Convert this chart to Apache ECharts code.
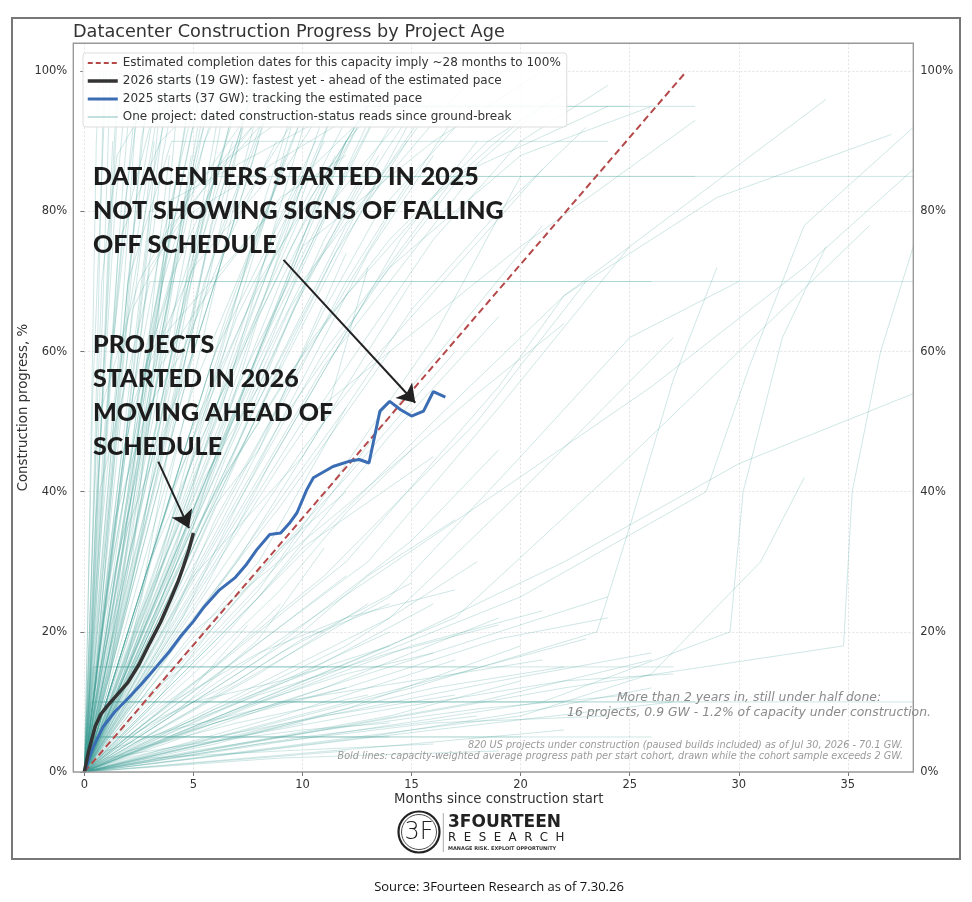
<!DOCTYPE html>
<html>
<head>
<meta charset="utf-8">
<script src="https://cdn.jsdelivr.net/npm/echarts@6.0.0/dist/echarts.min.js"></script>
<style>
html,body{margin:0;padding:0;background:#fff;}
#chart{width:972px;height:902px;}
</style>
</head>
<body>
<div id="chart"></div>
<script>
// ---------------- DATA ----------------
const xTickValues = [0, 5, 10, 15, 20, 25, 30, 35];
const yTickValues = [0, 20, 40, 60, 80, 100];

const paceName = 'Estimated completion dates for this capacity imply ~28 months to 100%';
const cohort2026Name = '2026 starts (19 GW): fastest yet - ahead of the estimated pace';
const cohort2025Name = '2025 starts (37 GW): tracking the estimated pace';
const projectName = 'One project: dated construction-status reads since ground-break';

// estimated pace (month, %)
const pacePath = [[0, 0], [27.6, 100]];

// 2026 starts cohort, capacity-weighted average (month, %)
const cohort2026 = [[0,0],[0.2,3],[0.5,6.5],[0.75,8.2],[1.05,9.4],[1.5,11],[2,12.8],[2.5,15.3],[3,18.4],[3.5,21.4],[3.95,24.6],[4.3,27.2],[4.55,29.4],[4.8,31.8],[5,34.1]];

// 2025 starts cohort, capacity-weighted average (month, %)
const cohort2025 = [[0,0],[0.4,3.5],[0.87,6.5],[1.4,8.6],[2,10.5],[2.6,12.5],[3.3,15],[3.9,17.2],[4.4,19.3],[5,21.5],[5.5,23.6],[6.2,26],[6.9,27.7],[7.4,29.5],[7.9,31.7],[8.5,33.9],[9,34.1],[9.4,35.5],[9.75,37],[10.2,40.3],[10.5,42],[11.4,43.6],[12.2,44.4],[12.6,44.6],[13.05,44.1],[13.55,51.5],[14,52.9],[14.5,51.7],[15,50.8],[15.55,51.5],[16,54.3],[16.55,53.5]];

// individual projects: fast starters
const fastPaths = [
  [[0,0],[0.3,25],[0.6,60],[0.9,100]],
  [[0,0],[0.4,55],[1,100]],
  [[0,0],[0.5,30],[1.1,72],[1.5,98]],
  [[0,0],[0.6,40],[1.2,75],[1.6,100]],
  [[0,0],[0.3,15],[1,50],[1.8,85],[2.2,100]],
  [[0,0],[0.8,35],[1.6,60],[2.4,95]],
  [[0,0],[1.2,40],[2,70],[3,100]],
  [[0,0],[0.5,20],[1.5,55],[2.8,80],[4,98]],
  [[0,0],[1.8,60],[2.6,90],[3.2,100]],
  [[0,0],[2,50],[3.5,75],[5,95]],
  [[0,0],[1,25],[3,60],[4.5,85],[5.5,100]],
  [[0,0],[2.2,30],[3.4,65],[4.4,100]],
  [[0,0],[0.4,10],[1.4,45],[3.2,90]],
  [[0,0],[1.3,20],[3,62],[4.8,95]],
  [[0,0],[0.9,22],[2.1,38],[3.9,88]],
  [[0,0],[2.5,45],[4,70],[6,100]],
  [[0,0],[2.8,60],[4.2,80],[5.5,100]],
  [[0,0],[3,55],[5.5,90],[7,100]],
  [[0,0],[1.5,30],[4,65],[7,95]],
  [[0,0],[3.6,70],[6,95]],
  [[0,0],[4.5,65],[6.5,100]],
  [[0,0],[2,35],[5,60],[8,90]],
  [[0,0],[1,15],[3.8,50],[6,80],[8,100]],
  [[0,0],[3,40],[6,75],[9,100]],
  [[0,0],[5.5,70],[8.5,95]],
  [[0,0],[4,50],[7,80],[10,95]],
  [[0,0],[2,40],[2.5,55],[5,72],[8.5,85]],
  [[0,0],[3.5,35],[7,65],[11,90]],
  [[0,0],[6.5,65],[9.5,90],[11,100]],
  [[0,0],[5,55],[9,85],[12,100]],
  [[0,0],[3,30],[6,52],[9.5,75],[12.5,92]],
  [[0,0],[4,40],[8,70],[13,95]],
  [[0,0],[6,60],[10,85],[14,97]],
  [[0,0],[5,45],[10,80],[14,100]],
  [[0,0],[8,60],[12,90],[15,100]],
  [[0,0],[7,55],[11,80],[15,95]],
  [[0,0],[9,70],[13,95]],
  [[0,0],[5,35],[8,65],[11.5,88]],
  [[0,0],[6,45],[10,70],[16,95]],
  [[0,0],[0.2,8],[0.7,45],[1.3,90]],
  [[0,0],[0.7,18],[1.9,48],[2.9,76],[3.6,100]],
  [[0,0],[1.1,12],[2.4,42],[3.3,58],[5.2,92]],
  [[0,0],[1.6,22],[3.1,47],[4.6,68],[6.8,90]],
  [[0,0],[2.6,25],[4.4,55],[5.8,78],[7.6,96]],
  [[0,0],[3.3,28],[5.2,50],[7.4,72],[9.8,92]],
  [[0,0],[0.5,12],[2.3,34],[4.1,58],[4.9,75],[6.3,88]],
  [[0,0],[4.2,32],[6.6,58],[8.8,78],[10.6,90]],
  [[0,0],[1.9,18],[4.8,48],[7.8,68],[10.2,82],[12.8,98]]
];

// individual projects: more fast starters
const fastPaths2 = [
  [[0,0],[0.5,35],[1.4,80],[2,100]],
  [[0,0],[0.9,48],[1.9,82],[2.7,100]],
  [[0,0],[1.4,52],[2.3,78],[3.5,100]],
  [[0,0],[1.7,42],[3.3,85],[3.9,100]],
  [[0,0],[2.4,58],[3.6,88],[4.3,100]],
  [[0,0],[1.2,28],[2.7,55],[4.6,92],[5,100]],
  [[0,0],[2.9,48],[4.9,85],[5.8,100]],
  [[0,0],[3.4,62],[5.1,88],[6.2,100]],
  [[0,0],[2.1,26],[4.3,60],[6.6,98]],
  [[0,0],[3.9,58],[5.9,82],[7.2,100]],
  [[0,0],[4.6,55],[6.4,80],[7.8,100]],
  [[0,0],[1.8,14],[4.7,52],[7.1,84],[8.4,100]],
  [[0,0],[5.2,62],[7.6,86],[8.9,100]],
  [[0,0],[3.6,30],[6.1,58],[8.3,82],[9.6,95]],
  [[0,0],[5.8,58],[8.4,80],[10.2,100]],
  [[0,0],[6.3,52],[9.1,82],[10.8,100]],
  [[0,0],[4.4,36],[7.3,62],[10.1,86],[11.7,100]],
  [[0,0],[7.2,62],[10.3,86],[12.2,100]],
  [[0,0],[6.8,48],[9.9,72],[12.9,92]],
  [[0,0],[7.9,58],[11.2,80],[13.6,95]],
  [[0,0],[8.6,64],[12.4,88],[14.4,100]],
  [[0,0],[8.1,52],[12,76],[15.3,95]],
  [[0,0],[9.4,66],[13.3,86],[16.2,100]],
  [[0,0],[9.9,58],[14.1,80],[17.3,95]],
  [[0,0],[0.15,20],[0.35,55],[0.55,90],[0.7,100]],
  [[0,0],[0.25,12],[0.8,62],[1.2,100]],
  [[0,0],[0.6,26],[1.3,60],[2.1,88],[2.5,100]],
  [[0,0],[0.35,6],[1.1,35],[2.2,72],[3.4,95]],
  [[0,0],[0.8,12],[2,30],[3.6,62],[4.9,88]],
  [[0,0],[1.5,18],[3.5,45],[5.6,74],[7.3,92]],
  [[0,0],[2.3,20],[4.9,44],[7,66],[9.2,88]],
  [[0,0],[3,22],[5.6,40],[8.2,62],[11,84],[13.4,98]],
  [[0,0],[3.8,26],[6.9,46],[9.6,66],[12.6,84]],
  [[0,0],[4.9,30],[8.5,55],[11.5,74],[14.8,90]],
  [[0,0],[1.1,30],[1.7,45],[3.9,70],[6.2,86],[9.2,98]],
  [[0,0],[0.6,8],[1.6,25],[2.5,44],[3.1,62],[4.1,80]],
  [[0,0],[2.7,35],[3.5,50],[4.3,66],[5.3,77],[6.9,95]],
  [[0,0],[1.4,36],[2.9,52],[4.5,60],[6.6,76],[8.8,90]],
  [[0,0],[6,40],[9,55],[12,68],[16,82],[20,93]],
  [[0,0],[7,45],[10.5,62],[14,76],[18.5,90],[22,97]]
];

// individual projects: steady upper-middle paths
const fastPaths3 = [
  [[0,0],[2,15],[4.5,38],[7,58],[9.5,78],[11.5,95]],
  [[0,0],[3,20],[5.5,42],[8,55],[10.5,72],[13.5,88]],
  [[0,0],[4,25],[6.5,45],[9,62],[11,76],[14,92]],
  [[0,0],[2.5,22],[5,40],[6.5,52],[8.5,70],[10,84]],
  [[0,0],[5,32],[7.5,50],[10,65],[12.5,80],[16,96]],
  [[0,0],[1.5,10],[4,28],[6,44],[8,60],[10.5,80],[12,90]],
  [[0,0],[3.5,18],[6,36],[8.5,50],[11,66],[13.5,80],[17,92]],
  [[0,0],[6,34],[9,52],[12,70],[15,85]],
  [[0,0],[4.5,22],[7,38],[10,56],[13,74],[16,88]],
  [[0,0],[7,36],[10,52],[13,68],[17,84],[21,95]],
  [[0,0],[8,42],[11,58],[14,70],[18,86]],
  [[0,0],[5.5,26],[8.5,44],[11.5,60],[14.5,76],[18,90]],
  [[0,0],[1,6],[3,20],[5,34],[7.5,48],[9,58]],
  [[0,0],[2,12],[4,24],[6,38],[8,46],[10,60],[12,74]],
  [[0,0],[9,44],[12.5,60],[16,76],[20,90],[24,98]],
  [[0,0],[10,46],[13,58],[17,72],[21,86]],
  [[0,0],[12,52],[15,66],[19,80],[23,92]],
  [[0,0],[1.2,58],[2,80],[3,92],[5,100]],
  [[0,0],[0.8,70],[1.5,88],[3,96]],
  [[0,0],[1.6,76],[3.5,90],[6,98]],
  [[0,0],[2.2,66],[4.8,82],[8,96]],
  [[0,0],[3,72],[6.5,88],[10,100]],
  [[0,0],[4,78],[8,92],[14,100]],
  [[0,0],[0.6,50],[2.5,70],[5,84],[9,93]],
  [[0,0],[1.8,32],[3.5,58],[6,70],[9,82],[12,88]]
];

// individual projects: mid-paced
const midPaths = [
  [[0,0],[6,22],[12,42],[17,60]],
  [[0,0],[8,25],[14,48],[19,65]],
  [[0,0],[5,28],[10,45],[15,70]],
  [[0,0],[9,30],[15,55],[21,78]],
  [[0,0],[11,28],[18,50],[23,70]],
  [[0,0],[4,18],[9,38],[14,60]],
  [[0,0],[13,30],[19,52],[25,75]],
  [[0,0],[7,30],[11,50],[13,72]],
  [[0,0],[10,35],[16,62],[20,85]],
  [[0,0],[3,12],[8,30],[12,52]],
  [[0,0],[14,22],[20,40],[27,62]],
  [[0,0],[6,18],[10,32],[16,45]],
  [[0,0],[7.5,50],[12,78],[18,100]],
  [[0,0],[10,75],[16,90],[21,100]],
  [[0,0],[11,60],[17,85],[24,95]],
  [[0,0],[9,50],[14,72],[20,88],[26,95]],
  [[0,0],[10,50],[20,75],[28,93]],
  [[0,0],[5,20],[12,38],[18,54],[22,64]],
  [[0,0],[8,16],[15,33],[19,46]]
];

// individual projects: slow builds
const slowPaths = [
  [[0,0],[12,3]],
  [[0,0],[15,4],[22,6]],
  [[0,0],[10,5],[18,8]],
  [[0,0],[8,6],[16,12],[22,15]],
  [[0,0],[14,8],[20,13]],
  [[0,0],[6,4],[12,9],[20,18]],
  [[0,0],[18,10],[26,16]],
  [[0,0],[9,8],[17,16]],
  [[0,0],[11,12],[19,22]],
  [[0,0],[7,10],[14,20]],
  [[0,0],[5,6],[13,14],[24,25]],
  [[0,0],[16,6],[27,10]],
  [[0,0],[4,3],[10,7]],
  [[0,0],[3,2],[9,3],[16,4]],
  [[0,0],[6,9],[11,15]],
  [[0,0],[10,14],[16,24]],
  [[0,0],[8,14],[13,24]],
  [[0,0],[12,18],[18,30]],
  [[0,0],[7,16],[12,28]],
  [[0,0],[2,3],[7,7],[13,11]],
  [[0,0],[5,9],[9,17],[15,27]],
  [[0,0],[3,5],[8,11],[14,17],[19,21]],
  [[0,0],[13,5],[21,9],[26,12]],
  [[0,0],[4,8],[8,19],[11,32]],
  [[0,0],[2.5,7],[6,15],[9,24]],
  [[0,0],[9,2],[19,3]],
  [[0,0],[1.5,4],[5,12],[7.5,21]],
  [[0,0],[17,14],[23,19]]
];

// individual projects: more slow builds
const slowPaths2 = [
  [[0,0],[3,4],[7,9],[12,14],[16,17]],
  [[0,0],[2,2],[6,5],[11,8],[17,11]],
  [[0,0],[4,5],[9,10],[15,13],[21,16]],
  [[0,0],[5,3],[11,6],[18,9],[25,11]],
  [[0,0],[1,3],[4,6],[8,9],[12,12]],
  [[0,0],[6,7],[12,12],[19,19],[24,22]],
  [[0,0],[2,5],[5,10],[9,13],[14,18]],
  [[0,0],[7,5],[14,9],[22,13],[27,14]],
  [[0,0],[3,7],[7,13],[10,19],[14,24]],
  [[0,0],[8,4],[16,7],[24,8]],
  [[0,0],[1,2],[5,4],[10,6],[14,7]],
  [[0,0],[4,10],[8,17],[12,22],[17,26]],
  [[0,0],[9,11],[15,18],[21,23]],
  [[0,0],[2,9],[5,16],[8,26],[10,35]],
  [[0,0],[6,12],[10,20],[13,28],[17,36]],
  [[0,0],[3,9],[6,21],[9,32],[12,40]],
  [[0,0],[11,8],[19,13],[26,17]],
  [[0,0],[5,14],[9,26],[12,37],[15,46]]
];

// individual projects: stalled at a status read (plateaus)
const plateauPaths = [
  [[0,0],[0.7,40],[3,70],[26,70]],
  [[0,0],[2,50],[4,70],[38,70]],
  [[0,0],[4,60],[6,85],[38,85]],
  [[0,0],[3,60],[10,85],[28,85]],
  [[0,0],[2,70],[4,90],[24,90]],
  [[0,0],[3,80],[12,95],[28,95]],
  [[0,0],[5,80],[13,95],[25,95]],
  [[0,0],[0.5,5],[20,5]],
  [[0,0],[1,5],[26,5]],
  [[0,0],[0.3,5],[14,5]],
  [[0,0],[0.5,5],[6,5]],
  [[0,0],[0.5,10],[38,10]],
  [[0,0],[1,10],[22,10]],
  [[0,0],[0.8,10],[28,10]],
  [[0,0],[0.3,10],[16,10]],
  [[0,0],[0.5,15],[27,15]],
  [[0,0],[1.5,15],[18,15]],
  [[0,0],[0.4,15],[12,15]],
  [[0,0],[2,20],[11,20]]
];

// individual projects: older / late-running
const latePaths = [
  [[0,0],[14,18],[22,30],[30,44],[38,54]],
  [[0,0],[20,25],[28.5,40],[30.5,58],[33,78],[38,92]],
  [[0,0],[21,10],[29.6,20],[30.2,40],[32,62],[34,75]],
  [[0,0],[22,12],[34.8,18],[35.2,40],[36.5,60],[38,75]],
  [[0,0],[14,25],[20,45],[25,62],[30,70]],
  [[0,0],[12,30],[19,55],[22,68],[28,82],[34,96]],
  [[0,0],[15,12],[23.5,20],[25,35],[27,56],[29,72]],
  [[0,0],[17,22],[25,45],[31,63],[36,78]],
  [[0,0],[19,40],[26,55],[33,72],[38,86]],
  [[0,0],[16,50],[22,68],[29,82],[37,91]],
  [[0,0],[20,8],[26,14],[31,30],[33,42]]
];

// annotation arrows (from, to) in (month, %)
const arrow2025 = [[9.13, 73.1], [15.17, 52.7]];
const arrow2026 = [[3.39, 44.3], [4.80, 34.8]];

// ---------------- CHART ----------------
const chart = echarts.init(document.getElementById('chart'), null, {renderer: 'canvas'});

const teal = 'rgba(62,160,150,0.25)';
const allProjects = [].concat(fastPaths, fastPaths2, fastPaths3, midPaths, slowPaths, slowPaths2, plateauPaths, latePaths);

const series = [];
allProjects.forEach(function (p) {
  series.push({
    type: 'line', name: projectName, data: p,
    symbol: 'none', showSymbol: false, silent: true, z: 1,
    itemStyle: {color: teal},
    lineStyle: {color: teal, width: 1}
  });
});
series.push({
  type: 'line', name: paceName, data: pacePath, symbol: 'none', silent: true, z: 3,
  itemStyle: {color: '#b5494a'},
  lineStyle: {color: '#b5494a', width: 2, type: [7, 4]}
});
series.push({
  type: 'line', name: cohort2025Name, data: cohort2025, symbol: 'none', silent: true, z: 4,
  itemStyle: {color: '#3a6db4'},
  lineStyle: {color: '#3a6db4', width: 3}
});
series.push({
  type: 'line', name: cohort2026Name, data: cohort2026, symbol: 'none', silent: true, z: 5,
  itemStyle: {color: '#333333'},
  lineStyle: {color: '#333333', width: 3.5},
  markLine: {
    silent: true, symbol: ['none', 'arrow'], symbolSize: 17,
    label: {show: false},
    lineStyle: {color: '#222', width: 2, type: 'solid'},
    data: [
      [{coord: arrow2025[0]}, {coord: arrow2025[1]}],
      [{coord: arrow2026[0]}, {coord: arrow2026[1]}]
    ]
  }
});

const fontM = 'DejaVu Sans';

const option = {
  animation: false,
  backgroundColor: '#ffffff',
  title: {
    text: 'Datacenter Construction Progress by Project Age',
    left: 73, top: 23.5, padding: 0,
    textStyle: {fontFamily: fontM, fontSize: 17.7, fontWeight: 'normal', color: '#333'}
  },
  legend: {
    orient: 'vertical', left: 83, top: 53, selectedMode: false,
    padding: [4, 6, 4, 3], itemGap: 6, itemWidth: 30, itemHeight: 12,
    itemStyle: {opacity: 0},
    backgroundColor: 'rgba(255,255,255,0.85)', borderColor: '#dddddd', borderWidth: 1, borderRadius: 3,
    textStyle: {fontFamily: fontM, fontSize: 12, color: '#333'},
    data: [
      {name: paceName, lineStyle: {color: '#b5494a', width: 2, type: [5, 3]}},
      {name: cohort2026Name, lineStyle: {color: '#333333', width: 3.5}},
      {name: cohort2025Name, lineStyle: {color: '#3a6db4', width: 3}},
      {name: projectName, lineStyle: {color: 'rgba(62,160,150,0.45)', width: 1.4}}
    ]
  },
  grid: {left: 84.3, right: 58.7, top: 43.3, bottom: 130, containLabel: false},
  xAxis: {
    type: 'value', min: 0, max: 38, interval: 5,
    name: 'Months since construction start', nameLocation: 'middle', nameGap: 21.5, nameMoveOverlap: false,
    nameTextStyle: {fontFamily: fontM, fontSize: 13.3, color: '#333'},
    axisLine: {show: false},
    axisTick: {show: true, length: 4, lineStyle: {color: '#777'}, customValues: xTickValues},
    axisLabel: {fontFamily: fontM, fontSize: 11.5, color: '#333', margin: 7, customValues: xTickValues,
      formatter: function (v) { return xTickValues.indexOf(v) >= 0 ? String(v) : ''; }},
    splitLine: {show: true, lineStyle: {color: '#e4e4e4', type: [2, 2], width: 1}}
  },
  yAxis: [{
    type: 'value', min: 0, max: 104, interval: 20, position: 'left', offset: 11,
    name: 'Construction progress, %', nameLocation: 'middle', nameGap: 43, nameMoveOverlap: false,
    nameTextStyle: {fontFamily: fontM, fontSize: 13.3, color: '#333'},
    axisLine: {show: false},
    axisTick: {show: true, length: 4, lineStyle: {color: '#777'}, customValues: yTickValues},
    axisLabel: {fontFamily: fontM, fontSize: 11.5, color: '#333', margin: 6, customValues: yTickValues,
      formatter: function (v) { return yTickValues.indexOf(v) >= 0 ? v + '%' : ''; }},
    splitLine: {show: true, lineStyle: {color: '#e4e4e4', type: [2, 2], width: 1}}
  }, {
    type: 'value', min: 0, max: 104, interval: 20, position: 'right',
    axisLine: {show: false}, axisTick: {show: false}, splitLine: {show: false},
    axisLabel: {fontFamily: fontM, fontSize: 11.5, color: '#333', margin: 7, customValues: yTickValues,
      formatter: function (v) { return yTickValues.indexOf(v) >= 0 ? v + '%' : ''; }}
  }],
  series: series,
  graphic: [
    {type: 'rect', z: 0, silent: true, shape: {x: 12, y: 18, width: 948, height: 841},
      style: {fill: 'none', stroke: '#777', lineWidth: 2}},
    {type: 'rect', z: 50, silent: true, shape: {x: 73.3, y: 43.3, width: 840, height: 728.7},
      style: {fill: 'none', stroke: '#999', lineWidth: 1.4}},
    {type: 'text', z: 60, silent: true, left: 93, top: 160,
      style: {text: 'DATACENTERS STARTED IN 2025\nNOT SHOWING SIGNS OF FALLING\nOFF SCHEDULE',
        fill: '#1c1c1c', font: '900 25px Lato', lineHeight: 34}},
    {type: 'text', z: 60, silent: true, left: 93, top: 328,
      style: {text: 'PROJECTS\nSTARTED IN 2026\nMOVING AHEAD OF\nSCHEDULE',
        fill: '#1c1c1c', font: '900 25px Lato', lineHeight: 34}},
    {type: 'text', z: 60, silent: true, x: 749, y: 691,
      style: {text: 'More than 2 years in, still under half done:\n16 projects, 0.9 GW - 1.2% of capacity under construction.',
        fill: '#8a8a8a', font: 'italic 12.4px "DejaVu Sans"', align: 'center', verticalAlign: 'top', lineHeight: 14.3}},
    {type: 'text', z: 60, silent: true, x: 903, y: 740,
      style: {text: '820 US projects under construction (paused builds included) as of Jul 30, 2026 - 70.1 GW.\nBold lines: capacity-weighted average progress path per start cohort, drawn while the cohort sample exceeds 2 GW.',
        fill: '#9a9a9a', font: 'italic 9.7px "DejaVu Sans"', align: 'right', verticalAlign: 'top', lineHeight: 10.7}},
    {type: 'circle', z: 60, silent: true, shape: {cx: 419, cy: 832, r: 20.5},
      style: {fill: 'none', stroke: '#222', lineWidth: 2.2}},
    {type: 'circle', z: 60, silent: true, shape: {cx: 419, cy: 832, r: 17.5},
      style: {fill: 'none', stroke: '#222', lineWidth: 0.8}},
    {type: 'text', z: 60, silent: true, x: 419, y: 833,
      style: {text: '3F', fill: '#222', font: '300 24px "DejaVu Sans"', align: 'center', verticalAlign: 'middle'}},
    {type: 'line', z: 60, silent: true, shape: {x1: 443.3, y1: 813, x2: 443.3, y2: 852},
      style: {stroke: '#aaa', lineWidth: 1}},
    {type: 'text', z: 60, silent: true, x: 448, y: 822.5,
      style: {text: '3FOURTEEN', fill: '#222', font: 'bold 17px "DejaVu Sans"', verticalAlign: 'middle'}},
    {type: 'text', z: 60, silent: true, x: 448, y: 838,
      style: {text: 'R  E  S  E  A  R  C  H', fill: '#222', font: '11.8px "DejaVu Sans"', verticalAlign: 'middle'}},
    {type: 'text', z: 60, silent: true, x: 448, y: 848.5,
      style: {text: 'MANAGE RISK. EXPLOIT OPPORTUNITY', fill: '#333', font: 'bold 5px "DejaVu Sans"', verticalAlign: 'middle'}},
    {type: 'text', z: 60, silent: true, x: 499, y: 887.5,
      style: {text: 'Source: 3Fourteen Research as of 7.30.26', fill: '#111', font: '13px "Open Sans"', align: 'center', verticalAlign: 'middle'}}
  ]
};

chart.setOption(option);
</script>
</body>
</html>
